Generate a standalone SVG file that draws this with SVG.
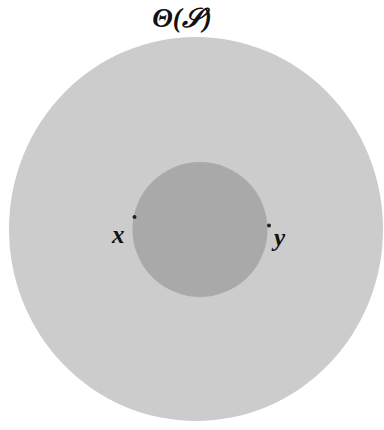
<svg xmlns="http://www.w3.org/2000/svg" width="384" height="430" viewBox="0 0 384 430">
<style>
.lbl{font-family:"Liberation Serif","DejaVu Serif",serif;font-style:italic;font-weight:bold;fill:#111}
.dot{fill:#222}
</style>
<rect width="384" height="430" fill="#ffffff"/>
<g id="title"><text class="lbl" x="182" y="27" font-size="27" text-anchor="middle" fill="#222">Θ(𝒮)</text></g>
<g id="outer"><ellipse cx="196" cy="229" rx="187" ry="192" fill="#cccccc"/></g>
<g id="inner"><circle cx="200" cy="229.5" r="67.5" fill="#a9a9a9"/></g>
<g id="px"><circle class="dot" cx="134.5" cy="217" r="2"/><text class="lbl" x="112" y="243" font-size="25">x</text></g>
<g id="py"><circle class="dot" cx="269" cy="225.5" r="2"/><text class="lbl" x="274" y="246" font-size="25">y</text></g>
<g id="connectors"></g>
</svg>
